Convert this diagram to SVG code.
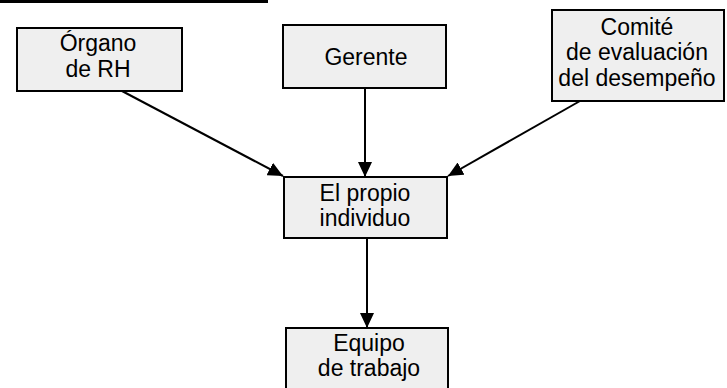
<svg xmlns="http://www.w3.org/2000/svg" width="727" height="388" viewBox="0 0 727 388">
<style>
.box{fill:#efefef;stroke:#000;stroke-width:2}
.t{font-family:"Liberation Sans",Arial,sans-serif;font-size:23px;fill:#000;text-anchor:middle}
.c{stroke:#000;stroke-width:2;fill:none}
</style>
<defs>
<marker id="ah" viewBox="0 0 15 14" refX="15" refY="7" markerWidth="15" markerHeight="14" markerUnits="userSpaceOnUse" orient="auto">
<path d="M0,0 L15,7 L0,14 Z" fill="#000"/>
</marker>
</defs>
<rect width="727" height="388" fill="#fff"/>
<line x1="0" y1="1.5" x2="268" y2="1.5" stroke="#000" stroke-width="3"/>
<g id="connectors">
<line class="c" x1="122" y1="91" x2="283" y2="176" marker-end="url(#ah)"/>
<line class="c" x1="365" y1="88" x2="365" y2="177" marker-end="url(#ah)"/>
<line class="c" x1="580" y1="101" x2="448" y2="176" marker-end="url(#ah)"/>
<line class="c" x1="367" y1="238" x2="367" y2="328" marker-end="url(#ah)"/>
</g>
<g id="organo">
<rect class="box" x="17" y="28" width="165" height="63"/>
<text class="t" x="98" y="51">Órgano</text>
<text class="t" x="98" y="77">de RH</text>
</g>
<g id="gerente">
<rect class="box" x="283" y="25" width="163" height="63"/>
<text class="t" x="366" y="65">Gerente</text>
</g>
<g id="comite">
<rect class="box" x="552" y="10" width="172" height="91"/>
<text class="t" x="637" y="35">Comité</text>
<text class="t" x="637" y="60">de evaluación</text>
<text class="t" x="637" y="86">del desempeño</text>
</g>
<g id="individuo">
<rect class="box" x="284" y="177" width="163" height="61"/>
<text class="t" x="365" y="201">El propio</text>
<text class="t" x="365" y="226">individuo</text>
</g>
<g id="equipo">
<rect class="box" x="286" y="328" width="162" height="64"/>
<text class="t" x="369" y="351">Equipo</text>
<text class="t" x="369" y="376">de trabajo</text>
</g>
</svg>
